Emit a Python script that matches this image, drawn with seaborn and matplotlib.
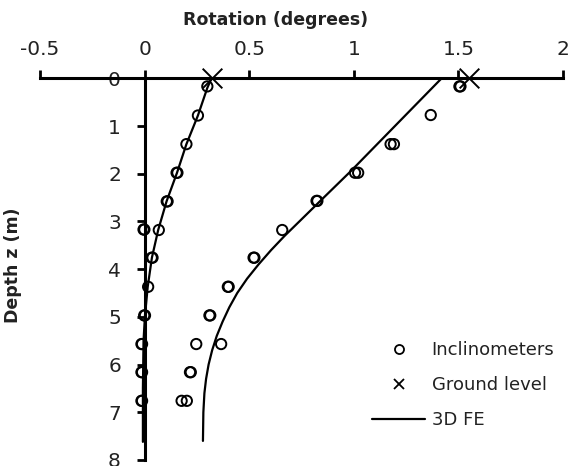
import matplotlib
matplotlib.use("Agg")
import matplotlib.pyplot as plt
from matplotlib.lines import Line2D
import pandas as pd
import seaborn as sns

# Inclinometer readings: rotation (degrees) against depth z (m)
incl_rotation = [
    0.300, 0.255, 0.200, 0.153, 0.157, 0.106, 0.110, 0.068, -0.005, -0.001,
    0.034, 0.038, 0.017, -0.002, 0.002, -0.015, -0.012, -0.015, -0.012,
    -0.015, -0.012,
    1.505, 1.510, 1.368, 1.176, 1.192, 1.006, 1.021, 0.822, 0.826, 0.658,
    0.521, 0.525, 0.398, 0.402, 0.310, 0.314, 0.247, 0.366, 0.217, 0.221,
    0.177, 0.202,
]
incl_depth = [
    0.17, 0.78, 1.38, 1.98, 1.98, 2.58, 2.58, 3.18, 3.17, 3.17,
    3.76, 3.76, 4.37, 4.97, 4.97, 5.57, 5.57, 6.16, 6.16,
    6.76, 6.76,
    0.17, 0.17, 0.77, 1.38, 1.38, 1.98, 1.98, 2.57, 2.57, 3.18,
    3.76, 3.76, 4.37, 4.37, 4.97, 4.97, 5.57, 5.57, 6.16, 6.16,
    6.76, 6.76,
]

# Rotation of each pile head at ground level
ground_rotation = [0.32, 1.55]
ground_depth = [0.0, 0.0]

# 3D finite element prediction for the two piles
fe_left_rotation = [0.320, 0.300, 0.255, 0.200, 0.155, 0.105, 0.065, 0.035,
                    0.015, 0.002, -0.005, -0.008, -0.008]
fe_left_depth = [0.00, 0.20, 0.78, 1.38, 1.98, 2.58, 3.18, 3.76,
                 4.37, 4.97, 5.50, 6.50, 7.62]
fe_right_rotation = [1.420, 1.130, 0.985, 0.840, 0.740, 0.670, 0.605, 0.545,
                     0.490, 0.443, 0.405, 0.373, 0.345, 0.323, 0.306, 0.294,
                     0.286, 0.281, 0.279]
fe_right_depth = [0.00, 1.30, 1.95, 2.57, 3.00, 3.30, 3.60, 3.90,
                  4.20, 4.50, 4.80, 5.10, 5.40, 5.70, 6.00, 6.30,
                  6.60, 7.00, 7.60]

x_ticks = [-0.5, 0, 0.5, 1, 1.5, 2]
x_tick_labels = ["-0.5", "0", "0.5", "1", "1.5", "2"]
y_ticks = [0, 1, 2, 3, 4, 5, 6, 7, 8]

sns.set_theme(style="white")
plt.rcParams["font.family"] = ["DejaVu Sans"]

fig = plt.figure(figsize=(5.72, 4.66), dpi=100)
ax = fig.add_axes([0.0699, 0.0129, 0.9143, 0.8191])

fe = pd.DataFrame({
    "rotation": fe_left_rotation + fe_right_rotation,
    "depth": fe_left_depth + fe_right_depth,
    "pile": ["left"] * len(fe_left_rotation) + ["right"] * len(fe_right_rotation),
})
sns.lineplot(data=fe, x="rotation", y="depth", units="pile", estimator=None,
             sort=False, color="black", linewidth=1.6, ax=ax, legend=False)

sns.scatterplot(x=incl_rotation, y=incl_depth, marker="o", s=55,
                facecolors="none", edgecolor="black", linewidth=1.4,
                ax=ax, legend=False, zorder=3)
sns.scatterplot(x=ground_rotation, y=ground_depth, marker="x", s=200,
                color="black", linewidth=1.4, ax=ax, legend=False, zorder=4,
                clip_on=False)

ax.set_xlim(-0.5, 2)
ax.set_ylim(8, 0)
ax.set_xticks(x_ticks)
ax.set_xticklabels(x_tick_labels)
ax.set_yticks(y_ticks)

for side in ("bottom", "right"):
    ax.spines[side].set_visible(False)
ax.spines["top"].set_linewidth(2.2)
ax.spines["top"].set_color("black")
ax.spines["left"].set_linewidth(2.2)
ax.spines["left"].set_color("black")
ax.spines["left"].set_position(("data", 0))

ax.xaxis.tick_top()
ax.xaxis.set_label_position("top")
ax.tick_params(axis="x", direction="out", length=6, width=2, pad=8,
               labelsize=14.5, colors="black", top=True, bottom=False)
ax.tick_params(axis="y", direction="out", length=6, width=2, pad=11,
               labelsize=14.5, colors="black", left=True)
for lab in ax.get_xticklabels() + ax.get_yticklabels():
    lab.set_color("#222222")

ax.set_xlabel("Rotation (degrees)", fontsize=12.5, fontweight="bold",
              color="#222222")
ax.xaxis.set_label_coords(0.451, 1.152)
ax.xaxis.label.set_va("center")
ax.set_ylabel("Depth z (m)", fontsize=12.5, fontweight="bold",
              color="#222222")
ax.yaxis.set_label_coords(-0.0516, 0.51)
ax.yaxis.label.set_va("center")

handles = [
    Line2D([], [], marker="o", linestyle="none", markerfacecolor="none",
           markeredgecolor="black", markersize=6.5, markeredgewidth=1.3),
    Line2D([], [], marker="x", linestyle="none", color="black",
           markersize=7, markeredgewidth=1.3),
    Line2D([], [], color="black", linewidth=1.6),
]
labels = ["Inclinometers", "Ground level", "3D FE"]
ax.legend(handles, labels, loc="upper left", frameon=False, fontsize=13,
          bbox_to_anchor=(372 / 572, 1 - 341 / 466),
          bbox_transform=fig.transFigure, borderpad=0, borderaxespad=0,
          handlelength=2.95, handletextpad=0.35, labelspacing=0.95,
          labelcolor="#222222")

fig.savefig("out.png", dpi=100)
